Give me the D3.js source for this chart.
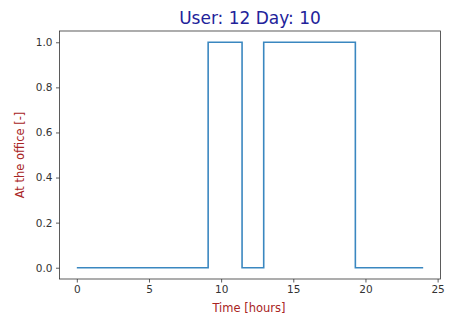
<!DOCTYPE html>
<html><head><meta charset="utf-8">
<script src="https://cdn.jsdelivr.net/npm/d3@7"></script>
<style>body{margin:0;background:#fff}svg{display:block}text{font-family:"DejaVu Sans",sans-serif}</style>
</head><body><svg id="c" width="449" height="319"></svg>
<script>
const times = [0, 9.1, 11.45, 12.95, 19.3, 24];
const values = [0, 1, 0, 1, 0, 0];
const xTicks = [0, 5, 10, 15, 20, 25];
const yTicks = [0.0, 0.2, 0.4, 0.6, 0.8, 1.0];
const title = "User: 12 Day: 10";
const xLabel = "Time [hours]";
const yLabel = "At the office [-]";

const svg = d3.select("#c");
const L = 59.5, R = 440.5, T = 31, B = 279;
const x = d3.scaleLinear().domain([-1.2, 25.2]).range([L, R]);
const y = d3.scaleLinear().domain([-0.05, 1.05]).range([B, T]);

const pts = times.map((t, i) => [t, values[i]]);
svg.append("path").datum(pts)
  .attr("fill", "none").attr("stroke", "#3a87c0").attr("stroke-width", 1.6)
  .attr("d", d3.line().x(d => x(d[0])).y(d => y(d[1])).curve(d3.curveStepAfter));

const xa = svg.append("g").attr("transform", `translate(0,${B})`)
  .call(d3.axisBottom(x).tickValues(xTicks).tickFormat(d3.format("d")).tickSize(3.5).tickPadding(3.5));
const ya = svg.append("g").attr("transform", `translate(${L},0)`)
  .call(d3.axisLeft(y).tickValues(yTicks).tickFormat(d3.format(".1f")).tickSize(3.5).tickPadding(3.5));
[xa, ya].forEach(a => {
  a.select(".domain").remove();
  a.selectAll("line").attr("stroke", "#333").attr("stroke-width", 0.8);
  a.selectAll("text").attr("fill", "#333").style("font-size", "10.5px").style("font-family", "DejaVu Sans");
});
svg.append("rect").attr("x", L).attr("y", T).attr("width", R - L).attr("height", B - T)
  .attr("fill", "none").attr("stroke", "#333").attr("stroke-width", 0.8);

svg.append("text").attr("x", 250).attr("y", 24).attr("text-anchor", "middle")
  .attr("fill", "#22229a").style("font-size", "17px").text(title);
svg.append("text").attr("x", 249).attr("y", 312).attr("text-anchor", "middle")
  .attr("fill", "#a82424").style("font-size", "11.5px").text(xLabel);
svg.append("text").attr("transform", `translate(24,${(T + B) / 2}) rotate(-90)`).attr("text-anchor", "middle")
  .attr("fill", "#a82424").style("font-size", "11.5px").text(yLabel);
</script></body></html>
